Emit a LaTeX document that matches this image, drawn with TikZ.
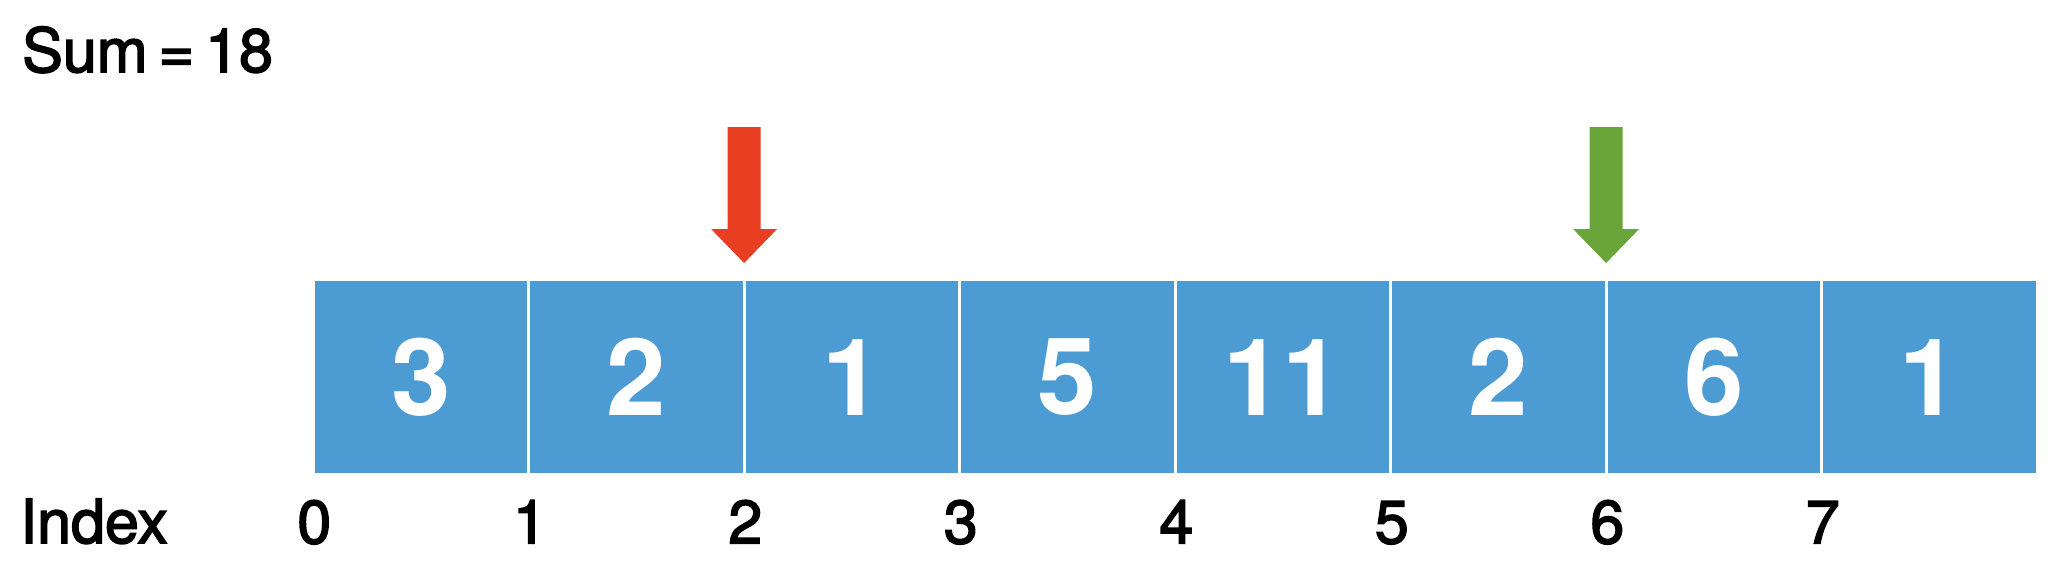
\documentclass[tikz,border=0pt]{standalone}
\usepackage{fontspec}
\setmainfont{TeX Gyre Heros}
\newfontfamily\labelfont[FakeBold=2.5]{TeX Gyre Heros}
\usetikzlibrary{positioning,calc}
\definecolor{cellblue}{RGB}{77,155,211}
\definecolor{ptrred}{RGB}{232,62,34}
\definecolor{ptrgreen}{RGB}{106,165,58}

\begin{document}
\begin{tikzpicture}[x=1pt,y=-1pt,
	cell/.style={fill=cellblue, anchor=north west, minimum width=212.7pt, minimum height=192pt, inner sep=0pt, text=white, font=\fontsize{107}{107}\selectfont\bfseries},
	idx/.style={anchor=base, inner sep=0pt, font=\fontsize{61}{61}\labelfont}]
	\useasboundingbox (0,0) rectangle (2062,582);
	\def\pitch{215.5}
	% the array
	\foreach \v [count=\i from 0] in {3,2,1,5,11,2,6,1}
	\node[cell] (c\i) at ({314.3+\i*\pitch},281) {\v};
	% index row
	\node[idx, anchor=base west] (idxtitle) at (20,543) {Index};
	\foreach \i in {0,...,7}
	\node[idx] (i\i) at ([yshift=-70pt]c\i.south west) {\i};
	% running sum
	\node[idx, anchor=base west] (sum) at (22,72) {Sum\hspace{0.18em}=\hspace{0.18em}18};
	% pointers
	\coordinate (redtip) at ($(c1.north east)!0.5!(c2.north west)+(0,-18)$);
	\coordinate (greentip) at ($(c5.north east)!0.5!(c6.north west)+(0,-18)$);
	\foreach \t/\col in {redtip/ptrred, greentip/ptrgreen}
	\fill[\col] (\t) -- ++(33,-34) -- ++(-16.5,0) -- ++(0,-102) -- ++(-33,0) -- ++(0,102) -- ++(-16.5,0) -- cycle;
\end{tikzpicture}
\end{document}
